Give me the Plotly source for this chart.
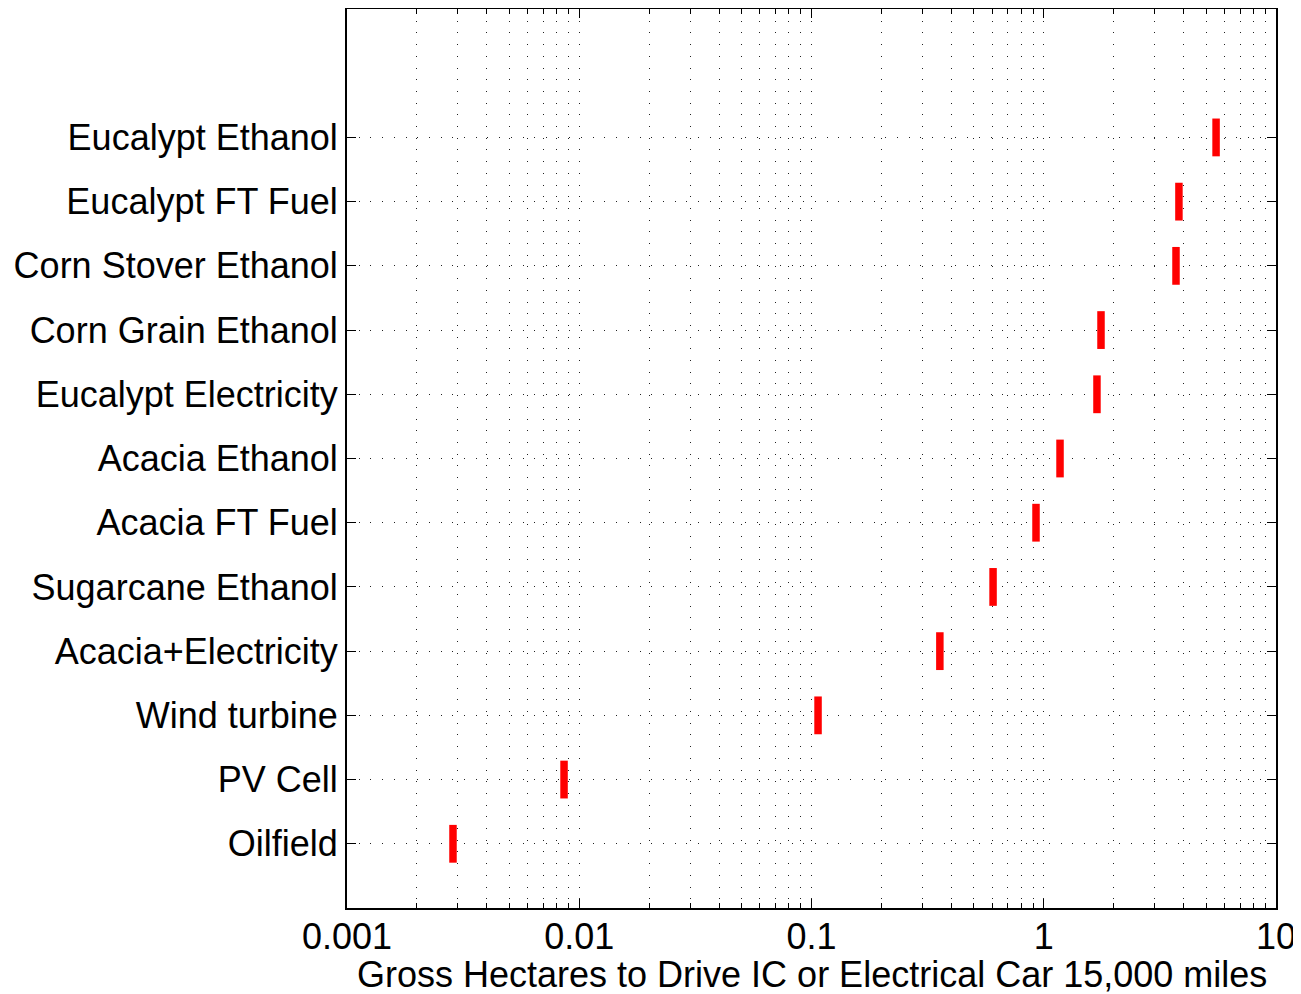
import plotly.graph_objects as go

categories = ["Oilfield", "PV Cell", "Wind turbine", "Acacia+Electricity",
              "Sugarcane Ethanol", "Acacia FT Fuel", "Acacia Ethanol",
              "Eucalypt Electricity", "Corn Grain Ethanol", "Corn Stover Ethanol",
              "Eucalypt FT Fuel", "Eucalypt Ethanol"]
hectares = [0.00286, 0.0086, 0.1067, 0.357, 0.605, 0.926, 1.175,
            1.695, 1.764, 3.71, 3.82, 5.52]
positions = list(range(1, len(categories) + 1))

major_x = [0.001, 0.01, 0.1, 1, 10]
major_x_text = ["0.001", "0.01", "0.1", "1", "10"]
minor_x = [m * d for d in [0.001, 0.01, 0.1, 1] for m in range(2, 10)]
x_title = "Gross Hectares to Drive IC or Electrical Car 15,000 miles"

FONT = "Liberation Sans, Arial, Helvetica, sans-serif"
DOT = "1px,10.7px"
FS = 36

fig = go.Figure()
fig.add_trace(go.Scatter(
    x=hectares, y=positions, mode="markers",
    marker=dict(symbol="line-ns", size=27, color="red",
                line=dict(color="red", width=7.5)),
    showlegend=False, hoverinfo="x+y",
))

fig.add_annotation(
    text=x_title, xref="paper", yref="paper", x=0.5, y=0,
    xanchor="center", yanchor="top", yshift=-44, showarrow=False,
    font=dict(family=FONT, size=FS, color="black"),
)

# page body has an 8px default margin, so the figure is sized/placed to compensate
fig.update_layout(
    width=1293, height=986,
    margin=dict(l=339, r=25, t=1, b=86),
    paper_bgcolor="white", plot_bgcolor="white",
    font=dict(family=FONT, size=FS, color="black"),
    xaxis=dict(
        type="log", range=[-3, 1], automargin=False,
        tickmode="array", tickvals=major_x, ticktext=major_x_text,
        ticks="inside", ticklen=9, tickwidth=1, tickcolor="black",
        showline=True, linecolor="black", linewidth=2, mirror="ticks",
        showgrid=True, gridcolor="#222", gridwidth=1, griddash=DOT,
        zeroline=False,
        ticklabelstandoff=-4,
        minor=dict(tickvals=minor_x, ticks="inside", ticklen=5,
                   tickcolor="black", tickwidth=1,
                   showgrid=True, gridcolor="#222", gridwidth=1, griddash=DOT),
        tickfont=dict(size=FS),
    ),
    yaxis=dict(
        range=[0, 14], automargin=False,
        tickmode="array", tickvals=positions, ticktext=categories,
        ticks="inside", ticklen=9, tickwidth=1, tickcolor="black",
        showline=True, linecolor="black", linewidth=2, mirror="ticks",
        showgrid=True, gridcolor="#222", gridwidth=1, griddash=DOT,
        zeroline=False,
        ticklabelstandoff=0,
        tickfont=dict(size=FS),
    ),
)

fig.write_html("out.html")
